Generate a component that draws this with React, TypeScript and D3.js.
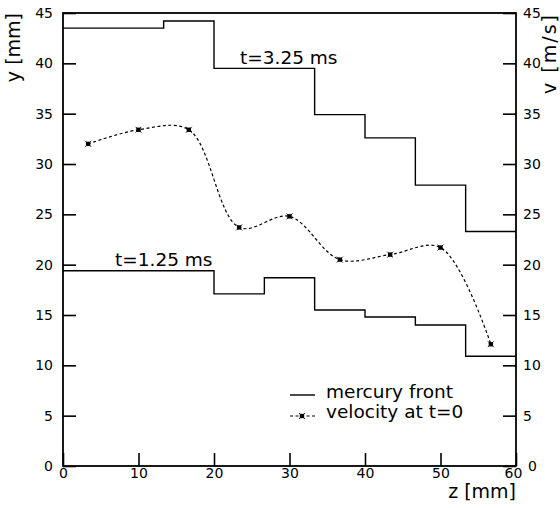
import * as d3 from "d3";
import { useEffect, useRef } from "react";

// step edges along z [mm] (shared by both mercury front profiles)
const stepEdges = [0, 6.67, 13.33, 20, 26.67, 33.33, 40, 46.67, 53.33, 60];
const front325 = [43.5, 43.5, 44.2, 39.5, 39.5, 34.9, 32.6, 27.9, 23.3];
const front125 = [19.4, 19.4, 19.4, 17.1, 18.7, 15.5, 14.8, 14.0, 10.9];

// velocity at t=0, right axis v [m/s]
const velZ = [3.33, 10, 16.67, 23.33, 30, 36.67, 43.33, 50, 56.67];
const velV = [32.0, 33.4, 33.4, 23.7, 24.8, 20.5, 21.0, 21.7, 12.1];

const xTicks = [0, 10, 20, 30, 40, 50, 60];
const yTicks = [0, 5, 10, 15, 20, 25, 30, 35, 40, 45];

const FONT = "DejaVu Sans";

export default function App() {
  const svgRef = useRef<SVGSVGElement>(null);
  const width = 560;
  const height = 508;

  useEffect(() => {
    if (!svgRef.current) return;
    const svg = d3.select(svgRef.current);
    svg.selectAll("*").remove();

    const x = d3.scaleLinear().domain([0, 60]).range([63, 516]);
    const y = d3.scaleLinear().domain([0, 45]).range([466, 13]);

    svg
      .append("rect")
      .attr("width", width)
      .attr("height", height)
      .attr("fill", "#fff");

    // axes, ticks pointing inward
    const styleAxis = (g: d3.Selection<SVGGElement, unknown, null, undefined>) => {
      g.select(".domain").remove();
      g.selectAll(".tick line").attr("stroke", "#000").attr("stroke-width", 1.6);
      g.selectAll(".tick text")
        .attr("fill", "#000")
        .attr("font-family", FONT)
        .attr("font-size", 14);
    };

    svg
      .append("g")
      .attr("transform", `translate(${x(0)},0)`)
      .call(d3.axisLeft(y).tickValues(yTicks).tickSize(-13).tickPadding(10).tickSizeOuter(0))
      .call(styleAxis);

    const right = svg
      .append("g")
      .attr("transform", `translate(${x(60)},0)`)
      .call(d3.axisRight(y).tickValues(yTicks).tickSize(-13).tickPadding(7).tickSizeOuter(0))
      .call(styleAxis);
    // the corner "0" sits a little further out, clear of the "60"
    right
      .selectAll<SVGTextElement, number>(".tick text")
      .filter((d) => d === 0)
      .attr("x", 12);

    const bottom = svg
      .append("g")
      .attr("transform", `translate(0,${y(0)})`)
      .call(d3.axisBottom(x).tickValues(xTicks).tickSize(-13).tickPadding(2).tickSizeOuter(0))
      .call(styleAxis);
    bottom
      .selectAll<SVGTextElement, number>(".tick text")
      .filter((d) => d === 60)
      .attr("x", -3);

    // frame
    svg
      .append("rect")
      .attr("x", x(0))
      .attr("y", y(45))
      .attr("width", x(60) - x(0))
      .attr("height", y(0) - y(45))
      .attr("fill", "none")
      .attr("stroke", "#000")
      .attr("stroke-width", 1.8);

    // mercury front step lines
    const stepLine = d3
      .line<[number, number]>()
      .x((d) => x(d[0]))
      .y((d) => y(d[1]))
      .curve(d3.curveStepAfter);

    const toSteps = (vals: number[]): [number, number][] => [
      ...vals.map((v, i): [number, number] => [stepEdges[i], v]),
      [stepEdges[stepEdges.length - 1], vals[vals.length - 1]],
    ];

    [front325, front125].forEach((vals) => {
      svg
        .append("path")
        .attr("d", stepLine(toSteps(vals)))
        .attr("fill", "none")
        .attr("stroke", "#000")
        .attr("stroke-width", 1.4);
    });

    // velocity, smooth dashed curve
    const velPts: [number, number][] = velZ.map((z, i) => [z, velV[i]]);
    const smooth = d3
      .line<[number, number]>()
      .x((d) => x(d[0]))
      .y((d) => y(d[1]))
      .curve(d3.curveCatmullRom.alpha(0.5));

    svg
      .append("path")
      .attr("d", smooth(velPts))
      .attr("fill", "none")
      .attr("stroke", "#000")
      .attr("stroke-width", 1.2)
      .attr("stroke-dasharray", "3,2.5");

    const marker = (cx: number, cy: number) => {
      const g = svg.append("g").attr("transform", `translate(${cx},${cy})`);
      g.append("rect").attr("x", -2.2).attr("y", -2.2).attr("width", 4.4).attr("height", 4.4).attr("fill", "#000");
      g.append("path").attr("d", "M-3,-3L3,3M-3,3L3,-3").attr("stroke", "#000").attr("stroke-width", 0.8);
    };
    velPts.forEach((d) => marker(x(d[0]), y(d[1])));

    // annotations
    const label = (tx: number, ty: number, s: string, size = 18.5) =>
      svg
        .append("text")
        .attr("x", tx)
        .attr("y", ty)
        .attr("font-family", FONT)
        .attr("font-size", size)
        .attr("fill", "#000")
        .text(s);

    label(240, 64, "t=3.25 ms");
    label(115, 266, "t=1.25 ms");

    // axis titles
    svg
      .append("text")
      .attr("transform", `translate(${x(60)},498)`)
      .attr("text-anchor", "end")
      .attr("font-family", FONT)
      .attr("font-size", 19)
      .text("z [mm]");

    svg
      .append("text")
      .attr("transform", `translate(20,${y(45)}) rotate(-90)`)
      .attr("text-anchor", "end")
      .attr("font-family", FONT)
      .attr("font-size", 19)
      .text("y [mm]");

    svg
      .append("text")
      .attr("transform", `translate(556,${y(45)}) rotate(-90)`)
      .attr("text-anchor", "end")
      .attr("font-family", FONT)
      .attr("font-size", 19)
      .attr("letter-spacing", 2)
      .text("v [m/s]");

    // legend
    svg
      .append("line")
      .attr("x1", 290)
      .attr("x2", 315)
      .attr("y1", 395)
      .attr("y2", 395)
      .attr("stroke", "#000")
      .attr("stroke-width", 1.4);
    svg
      .append("line")
      .attr("x1", 290)
      .attr("x2", 315)
      .attr("y1", 416)
      .attr("y2", 416)
      .attr("stroke", "#000")
      .attr("stroke-width", 1.2)
      .attr("stroke-dasharray", "3,2.5");
    marker(302, 416);
    label(326, 398, "mercury front");
    label(326, 418, "velocity at t=0");
  }, []);

  return (
    <svg
      ref={svgRef}
      width={width}
      height={height}
      style={{ position: "absolute", left: 0, top: 0, display: "block" }}
    />
  );
}
